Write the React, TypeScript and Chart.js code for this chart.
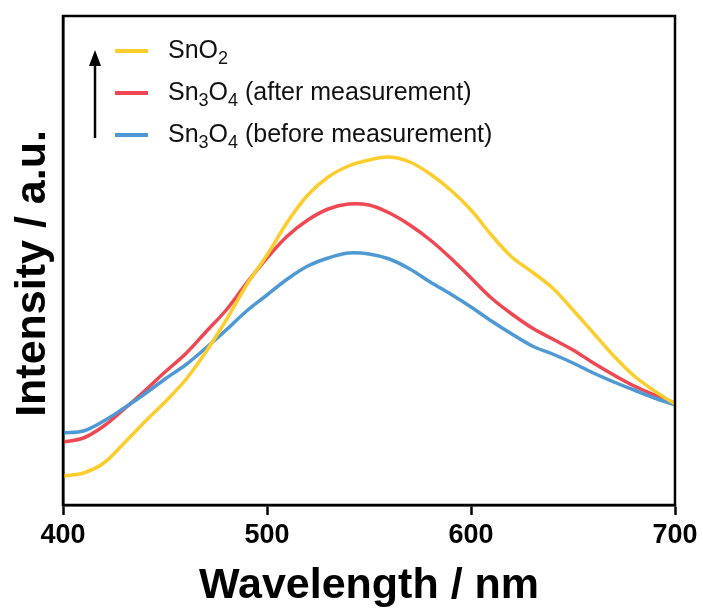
import React, { useEffect, useRef } from "react";
import { Chart, registerables } from "chart.js";

Chart.register(...registerables);

// Wavelength (nm)
const wavelengths = [
  400, 410, 420, 430, 440, 450, 460, 470, 480, 490, 500, 510, 520, 530, 540, 550,
  560, 570, 580, 590, 600, 610, 620, 630, 640, 650, 660, 670, 680, 690, 700,
];

// Intensity (a.u.)
const sno2 = [
  29, 32, 42, 62, 83, 103, 125, 153, 185, 220, 250, 283, 310, 328, 339, 345,
  348, 343, 331, 315, 295, 270, 248, 233, 217, 195, 172, 149, 129, 114, 101,
];
const sn3o4After = [
  63, 67, 79, 96, 114, 133, 151, 173, 195, 222, 247, 269, 285, 296, 301, 300,
  292, 280, 265, 247, 227, 207, 191, 177, 166, 155, 142, 130, 119, 110, 102,
];
const sn3o4Before = [
  72, 74, 84, 97, 111, 126, 140, 157, 175, 194, 210, 226, 239, 247, 252, 251,
  246, 236, 223, 211, 198, 184, 171, 159, 151, 142, 132, 123, 115, 107, 100,
];

const xTickValues = [400, 500, 600, 700];

const colorSnO2 = "rgb(252, 205, 45)";
const colorAfter = "rgb(240, 72, 82)";
const colorBefore = "rgb(78, 153, 212)";

const yTitle = "Intensity / a.u.";

// Legend entries: text parts, "sub" marks subscript
const legendSnO2 = [{ t: "SnO" }, { t: "2", sub: true }];
const legendAfter = [
  { t: "Sn" }, { t: "3", sub: true }, { t: "O" }, { t: "4", sub: true }, { t: " (after measurement)" },
];
const legendBefore = [
  { t: "Sn" }, { t: "3", sub: true }, { t: "O" }, { t: "4", sub: true }, { t: " (before measurement)" },
];

const FONT = "'Liberation Sans', Arial, Helvetica, sans-serif";

const frameLegendPlugin = {
  id: "frameLegend",
  afterDraw(chart: any) {
    const { ctx, chartArea } = chart;
    const { left, right, top, bottom } = chartArea;
    ctx.save();
    // frame
    ctx.strokeStyle = "#000";
    ctx.lineWidth = 2.5;
    ctx.strokeRect(left, top, right - left, bottom - top);

    // y-axis title
    ctx.save();
    ctx.translate(33.5, (top + bottom) / 2 + 13);
    ctx.rotate(-Math.PI / 2);
    ctx.font = `bold 43px ${FONT}`;
    ctx.fillStyle = "#000";
    ctx.textAlign = "center";
    ctx.textBaseline = "middle";
    ctx.fillText(yTitle, 0, 0);
    ctx.restore();

    // arrow
    const ax = left + 32;
    ctx.strokeStyle = "#000";
    ctx.lineWidth = 2.5;
    ctx.beginPath();
    ctx.moveTo(ax, top + 122);
    ctx.lineTo(ax, top + 46);
    ctx.stroke();
    ctx.fillStyle = "#000";
    ctx.beginPath();
    ctx.moveTo(ax, top + 34);
    ctx.lineTo(ax - 6, top + 50);
    ctx.lineTo(ax + 6, top + 50);
    ctx.closePath();
    ctx.fill();

    const entries = [
      { parts: legendSnO2, color: colorSnO2 },
      { parts: legendAfter, color: colorAfter },
      { parts: legendBefore, color: colorBefore },
    ];
    const baseY0 = top + 42;
    const rowGap = 42;
    entries.forEach((e, i) => {
      const baseline = baseY0 + i * rowGap;
      ctx.strokeStyle = e.color;
      ctx.lineWidth = 4;
      ctx.beginPath();
      ctx.moveTo(left + 52, baseline - 7);
      ctx.lineTo(left + 85, baseline - 7);
      ctx.stroke();
      let x = left + 105;
      ctx.fillStyle = "#111";
      ctx.textBaseline = "alphabetic";
      ctx.textAlign = "left";
      e.parts.forEach((p: any) => {
        if (p.sub) {
          ctx.font = `18px ${FONT}`;
          ctx.fillText(p.t, x, baseline + 6);
        } else {
          ctx.font = `25px ${FONT}`;
          ctx.fillText(p.t, x, baseline);
        }
        x += ctx.measureText(p.t).width;
      });
    });
    ctx.restore();
  },
};

export default function App() {
  const canvasRef = useRef<HTMLCanvasElement | null>(null);

  useEffect(() => {
    if (!canvasRef.current) return;
    const mk = (vals: number[]) => wavelengths.map((w, i) => ({ x: w, y: vals[i] }));
    const common = {
      pointRadius: 0,
      borderWidth: 3.5,
      tension: 0.35,
      fill: false,
    };
    const chart = new Chart(canvasRef.current, {
      type: "line",
      data: {
        datasets: [
          { label: "SnO2", data: mk(sno2), borderColor: colorSnO2, ...common },
          { label: "Sn3O4 (before measurement)", data: mk(sn3o4Before), borderColor: colorBefore, ...common },
          { label: "Sn3O4 (after measurement)", data: mk(sn3o4After), borderColor: colorAfter, ...common },
        ],
      },
      options: {
        responsive: false,
        animation: false,
        devicePixelRatio: 1,
        layout: { padding: { left: 0, right: 28, top: 16, bottom: 0 } },
        plugins: {
          legend: { display: false },
          tooltip: { enabled: false },
        },
        scales: {
          x: {
            type: "linear",
            min: 400,
            max: 700,
            afterBuildTicks: (s: any) => {
              s.ticks = xTickValues.map((v) => ({ value: v }));
            },
            afterFit: (s: any) => {
              s.height = 103;
            },
            ticks: {
              color: "#000",
              font: { family: FONT, size: 27, weight: "bold" },
              padding: 4,
              maxRotation: 0,
            },
            grid: {
              drawOnChartArea: false,
              drawTicks: true,
              tickLength: 10,
              tickWidth: 2.5,
              tickColor: "#000",
              color: "#000",
            },
            border: { display: true, color: "#000", width: 2.5 },
            title: {
              display: true,
              text: "Wavelength / nm",
              color: "#000",
              font: { family: FONT, size: 43, weight: "bold", lineHeight: 1 },
              padding: { top: 0, bottom: 0 },
            },
          },
          y: {
            type: "linear",
            min: 0,
            max: 489,
            afterFit: (s: any) => {
              s.width = 63;
            },
            ticks: { display: false },
            grid: { display: false, drawTicks: false },
            border: { display: true, color: "#000", width: 2.5 },
            title: { display: false },
          },
        },
      },
      plugins: [frameLegendPlugin],
    });
    return () => chart.destroy();
  }, []);

  return (
    <div style={{ position: "absolute", left: 0, top: 0, width: 703, height: 608, background: "#fff" }}>
      <canvas ref={canvasRef} width={703} height={608} />
    </div>
  );
}
